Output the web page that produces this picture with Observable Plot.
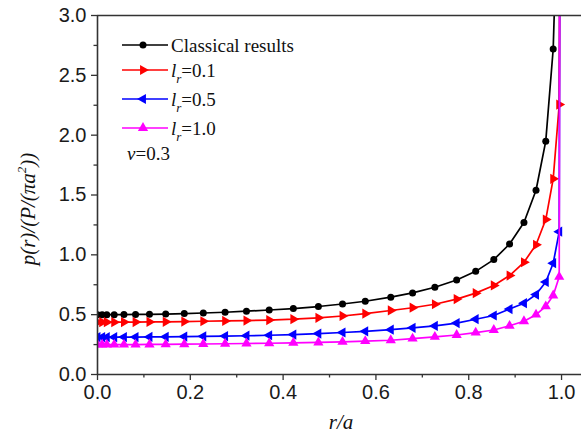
<!DOCTYPE html>
<html><head><meta charset="utf-8">
<script src="https://cdn.jsdelivr.net/npm/d3@7"></script>
<script src="https://cdn.jsdelivr.net/npm/@observablehq/plot@0.6"></script>
<style>
body{margin:0;background:#fff;}
#wrap{position:relative;width:581px;height:433px;overflow:hidden;background:#fff;}
#wrap svg.overlay{position:absolute;left:0;top:0;pointer-events:none;}
</style></head><body><div id="wrap"></div><script>
// Marker positions r/a (shared by all series)
const rA = [0, 0.01, 0.02, 0.036, 0.057, 0.082, 0.112, 0.147, 0.187, 0.228, 0.275, 0.321, 0.37, 0.422, 0.476, 0.528, 0.577, 0.632, 0.679, 0.727, 0.774, 0.815, 0.854, 0.888, 0.919, 0.945, 0.966, 0.982, 0.995];
// Series values p(r)/(P/(pi a^2))
const classical = [0.50, 0.50, 0.50, 0.50, 0.501, 0.502, 0.503, 0.505, 0.509, 0.514, 0.52, 0.529, 0.539, 0.551, 0.568, 0.589, 0.612, 0.646, 0.682, 0.729, 0.79, 0.862, 0.96, 1.09, 1.27, 1.54, 1.95, 2.72];
const lr01 = [0.437, 0.437, 0.437, 0.437, 0.438, 0.438, 0.439, 0.44, 0.442, 0.445, 0.448, 0.451, 0.455, 0.462, 0.474, 0.489, 0.508, 0.535, 0.558, 0.587, 0.630, 0.680, 0.744, 0.827, 0.938, 1.084, 1.295, 1.635, 2.256];
const lr05 = [0.312, 0.312, 0.312, 0.312, 0.313, 0.313, 0.314, 0.315, 0.317, 0.319, 0.321, 0.324, 0.328, 0.334, 0.342, 0.351, 0.361, 0.375, 0.39, 0.406, 0.43, 0.462, 0.493, 0.547, 0.596, 0.668, 0.773, 0.93, 1.193];
const lr10 = [0.25, 0.25, 0.25, 0.25, 0.25, 0.25, 0.251, 0.252, 0.253, 0.255, 0.257, 0.259, 0.261, 0.264, 0.268, 0.273, 0.279, 0.286, 0.300, 0.315, 0.330, 0.350, 0.372, 0.407, 0.445, 0.500, 0.570, 0.660, 0.816];
// Where each curve leaves the top of the plot (singular edge)
const tailX = [0.9865, 0.996, 0.996, 0.996];
const tailY = [3.3, 3.3, 3.3, 3.3];
// Tick values
const xTicks = [0, 0.2, 0.4, 0.6, 0.8, 1.0];
const xMinor = [0.1, 0.3, 0.5, 0.7, 0.9];
const yTicks = [0, 0.5, 1.0, 1.5, 2.0, 2.5, 3.0];
const yMinor = [0.25, 0.75, 1.25, 1.75, 2.25, 2.75];

const series = [
  {values: classical, color: "#000000", symbol: "circle", rotate: 0, r: 3.5},
  {values: lr01, color: "#ff0000", symbol: "triangle", rotate: 90, r: 3.8},
  {values: lr05, color: "#0000ff", symbol: "triangle", rotate: -90, r: 3.8},
  {values: lr10, color: "#ff00ff", symbol: "triangle", rotate: 0, r: 3.8}
];

const marks = [];
series.forEach((s, k) => {
  const pts = s.values.map((v, i) => ({x: rA[i], y: v}));
  const linePts = pts.concat([{x: tailX[k], y: tailY[k]}]);
  marks.push(Plot.line(linePts, {x: "x", y: "y", stroke: s.color, strokeWidth: 1.7, clip: true}));
  marks.push(Plot.dot(pts, {x: "x", y: "y", symbol: s.symbol, r: s.r, fill: s.color, stroke: "none", rotate: s.rotate, clip: true}));
});

const axisStyle = {stroke: "#333", strokeWidth: 1.3};
marks.push(
  Plot.ruleX([0], {stroke: "#333", strokeWidth: 1.6}),
  Plot.ruleY([0, 3], {stroke: "#333", strokeWidth: 1.6}),
  Plot.axisX({ticks: xTicks, tickSize: 6, tickPadding: 4, tickFormat: d => d.toFixed(1), label: null, ...axisStyle}),
  Plot.axisX({ticks: xMinor, tickSize: 3.5, tickFormat: () => "", label: null, ...axisStyle}),
  Plot.axisY({ticks: yTicks, tickSize: 6, tickPadding: 5, tickFormat: d => d.toFixed(1), label: null, ...axisStyle}),
  Plot.axisY({ticks: yMinor, tickSize: 3.5, tickFormat: () => "", label: null, ...axisStyle})
);

const chart = Plot.plot({
  width: 581, height: 433,
  marginLeft: 97, marginRight: 0, marginTop: 15, marginBottom: 59,
  x: {domain: [0, 1.043]},
  y: {domain: [0, 3]},
  style: {fontFamily: "'Liberation Sans', Arial, sans-serif", fontSize: "20px", color: "#1a1a1a", background: "transparent", overflow: "visible"},
  marks
});
const wrap = document.getElementById("wrap");
wrap.appendChild(chart);

// Overlay: legend and axis titles
const ov = d3.select(wrap).append("svg").attr("class", "overlay")
  .attr("width", 581).attr("height", 433)
  .style("font-family", "'Liberation Serif', 'Times New Roman', serif");

const legendRows = [
  {y: 45},
  {y: 70, val: "=0.1"},
  {y: 99, val: "=0.5"},
  {y: 128, val: "=1.0"}
];
legendRows.forEach((row, k) => {
  const s = series[k];
  ov.append("line").attr("x1", 122).attr("x2", 168).attr("y1", row.y).attr("y2", row.y)
    .attr("stroke", s.color).attr("stroke-width", 1.7);
  const sym = s.symbol === "circle" ? d3.symbolCircle : d3.symbolTriangle;
  ov.append("path").attr("d", d3.symbol(sym, Math.PI * s.r * s.r)())
    .attr("transform", `translate(143,${row.y}) rotate(${s.rotate})`).attr("fill", s.color);
  const t = ov.append("text").attr("x", 171).attr("y", row.y + 6.5).attr("font-size", 19).attr("fill", "#111");
  if (k === 0) {
    t.text("Classical results");
  } else {
    t.append("tspan").attr("font-style", "italic").text("l");
    t.append("tspan").attr("font-style", "italic").attr("font-size", 13).attr("dy", 6).text("r");
    t.append("tspan").attr("dy", -6).text(row.val);
  }
});
const nu = ov.append("text").attr("x", 127).attr("y", 160).attr("font-size", 19).attr("fill", "#111");
nu.append("tspan").attr("font-style", "italic").text("\u03BD");
nu.append("tspan").text("=0.3");

// x title
ov.append("text").attr("x", 341).attr("y", 429).attr("text-anchor", "middle")
  .attr("font-size", 21).attr("font-style", "italic").attr("fill", "#111").text("r/a");

// y title
const yt = ov.append("text").attr("transform", "translate(35,209) rotate(-90)")
  .attr("text-anchor", "middle").attr("font-size", 21).attr("font-style", "italic").attr("fill", "#111");
yt.append("tspan").text("p(r)/(P/(\u03C0a");
yt.append("tspan").attr("font-size", 13).attr("dy", -9).text("2");
yt.append("tspan").attr("dy", 9).text("))");
</script></body></html>
